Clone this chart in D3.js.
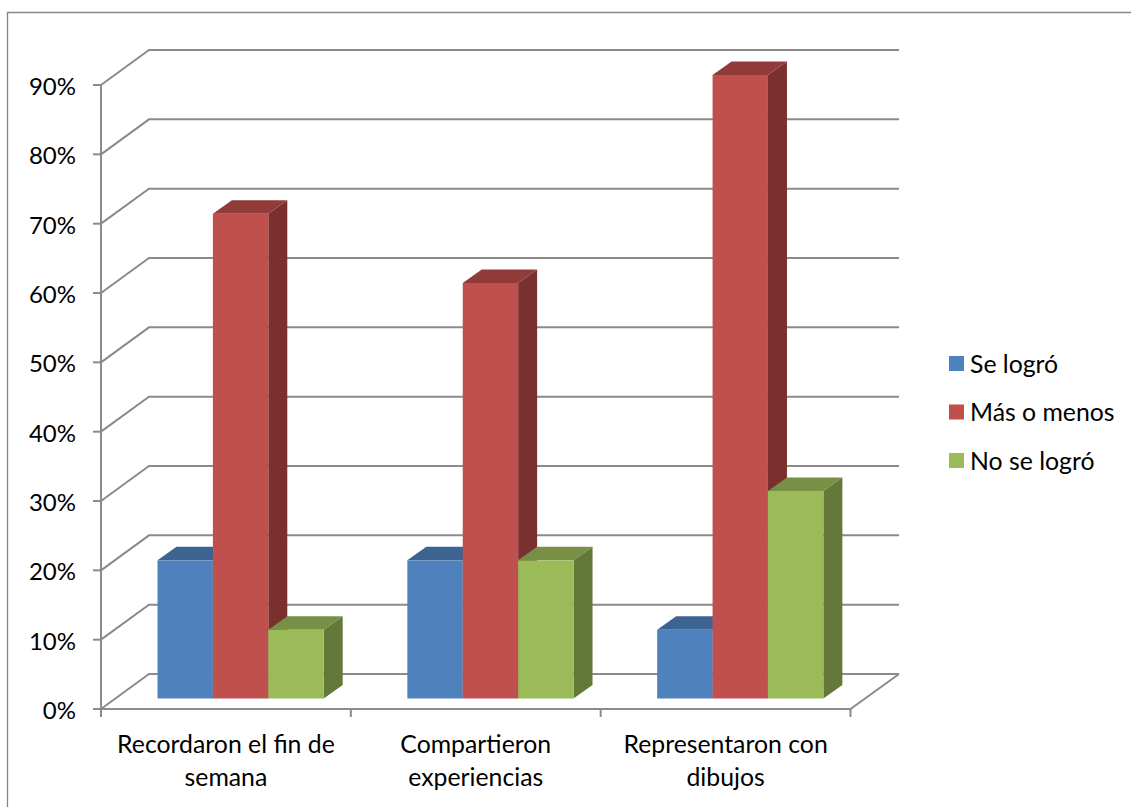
<!DOCTYPE html>
<html>
<head>
<meta charset="utf-8">
<style>
  html, body { margin: 0; padding: 0; background: #fff; }
  svg { display: block; }
  text { font-family: Lato, "Open Sans", sans-serif; fill: #000; }
</style>
</head>
<body>
<svg id="chart" width="1131" height="807"></svg>
<script src="https://cdn.jsdelivr.net/npm/d3@7/dist/d3.min.js"></script>
<script>
// Survey results per activity, in percent
const categories = [
  ["Recordaron el fin de", "semana"],
  ["Compartieron", "experiencias"],
  ["Representaron con", "dibujos"]
];
const seriesNames = ["Se logró", "Más o menos", "No se logró"];
const seLogro = [20, 20, 10];
const masOMenos = [70, 60, 90];
const noSeLogro = [10, 20, 30];
const seriesValues = [seLogro, masOMenos, noSeLogro];
const tickValues = [0, 10, 20, 30, 40, 50, 60, 70, 80, 90];

const faceColors = ["#4f81bd", "#c0504d", "#9bbb59"];
const topColors = ["#3c6391", "#923c3a", "#779045"];
const sideColors = ["#335379", "#7a302e", "#64783a"];
const gridColor = "#8b8b8b";

const svg = d3.select("#chart");

// Outer chart frame: only the top and left edges fall inside the view
svg.append("path")
  .attr("d", "M7.5,807V12.5H1131")
  .attr("fill", "none").attr("stroke", "#868686").attr("stroke-width", 1.3);

// Axis plane at the front of the box, plus the depth offset to the back wall
const y = d3.scaleLinear().domain([0, 90]).range([709, 85]);
const x = d3.scaleBand().domain(d3.range(categories.length)).range([101, 850.5]);
const wallDx = 48, wallDy = -35;
const wallRight = 899;

const grid = svg.append("g").attr("fill", "none").attr("stroke", gridColor).attr("stroke-width", 2);

// Gridlines run from the front axis, back along the side wall, across the back wall
grid.selectAll("path.wall").data(tickValues).join("path")
  .attr("class", "wall")
  .attr("d", v => d3.line()([
    [x.range()[0], y(v)],
    [x.range()[0] + wallDx, y(v) + wallDy],
    [wallRight, y(v) + wallDy]
  ]));

// Front edge of the floor
grid.append("path").attr("d", d3.line()([
  [x.range()[0], y(0)],
  [x.range()[1], y(0)],
  [wallRight, y(0) + wallDy]
]));

// Value axis with outward ticks
grid.append("path").attr("d", d3.line()([[x.range()[0], y(90)], [x.range()[0], y(0)]]));
grid.selectAll("path.ytick").data(tickValues).join("path")
  .attr("class", "ytick")
  .attr("d", v => d3.line()([[x.range()[0] - 8, y(v)], [x.range()[0], y(v)]]));

// Category tick marks on the group boundaries
grid.selectAll("path.xtick").data(d3.range(categories.length + 1)).join("path")
  .attr("class", "xtick")
  .attr("d", i => {
    const px = x.range()[0] + i * x.step();
    return d3.line()([[px, y(0)], [px, y(0) + 8]]);
  });

// Value labels
svg.append("g").selectAll("text").data(tickValues).join("text")
  .attr("x", 76).attr("y", v => y(v) + 10)
  .attr("text-anchor", "end").attr("font-size", 24)
  .text(v => v + "%");

// Category labels
const catLabels = svg.append("g").selectAll("text").data(categories).join("text")
  .attr("text-anchor", "middle").attr("font-size", 24.8);
catLabels.selectAll("tspan").data((d, i) => d.map(line => ({ line, i }))).join("tspan")
  .attr("x", d => x(d.i) + x.step() / 2)
  .attr("y", (d, j) => 753 + j * 33)
  .text(d => d.line);

// 3D columns: front face sits on the floor, offset from the axis plane
const barDepthX = 19, barDepthY = -13.5;
const groupInset = 56.5, barWidth = 55.4;
const floorShift = -10.5;
const marks = svg.append("g");
categories.forEach((_, c) => {
  seriesValues.forEach((values, s) => {
    const left = x(c) + groupInset + s * barWidth;
    const right = left + barWidth;
    const base = y(0) + floorShift;
    const top = y(values[c]) + floorShift + 0.5;
    const bar = marks.append("g");
    bar.append("path").attr("fill", sideColors[s]).attr("d", d3.line()([
      [right, base], [right + barDepthX, base + barDepthY],
      [right + barDepthX, top + barDepthY], [right, top]
    ]) + "Z");
    bar.append("path").attr("fill", topColors[s]).attr("d", d3.line()([
      [left, top], [left + barDepthX, top + barDepthY],
      [right + barDepthX, top + barDepthY], [right, top]
    ]) + "Z");
    bar.append("rect").attr("fill", faceColors[s])
      .attr("x", left).attr("y", top)
      .attr("width", barWidth).attr("height", base - top);
  });
});

// Legend
const legend = svg.append("g").selectAll("g").data(seriesNames).join("g")
  .attr("transform", (d, i) => `translate(949,${356 + i * 48.5})`);
legend.append("rect").attr("width", 15).attr("height", 15)
  .attr("fill", (d, i) => faceColors[i]);
legend.append("text").attr("x", 21).attr("y", 16.5)
  .attr("font-size", 24.8).text(d => d);
</script>
</body>
</html>
